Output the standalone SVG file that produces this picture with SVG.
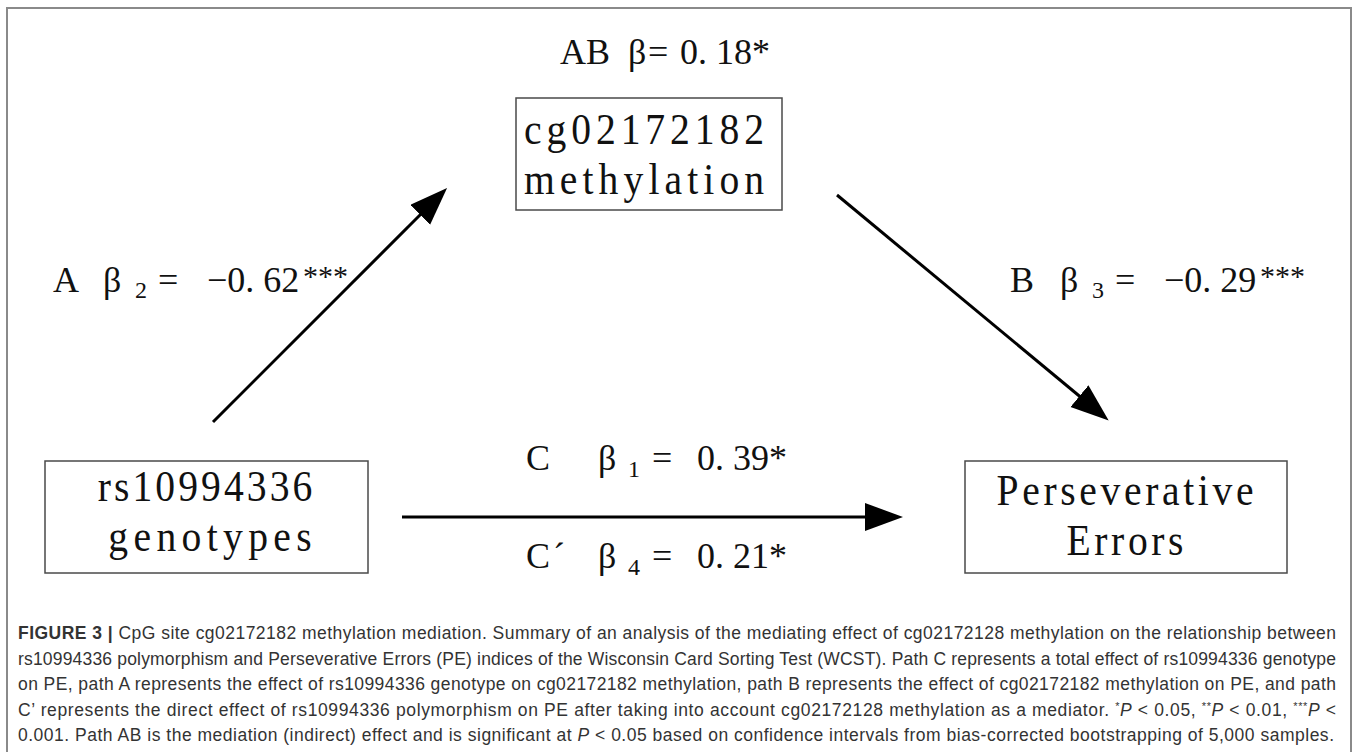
<svg xmlns="http://www.w3.org/2000/svg" width="1357" height="752" viewBox="0 0 1357 752">
<defs>
<style>
.frame{fill:none;stroke:#8a8a8a;stroke-width:2}
.box{fill:#fff;stroke:#4a4a4a;stroke-width:1.5}
.bt{font-family:"Liberation Serif",serif;font-size:45px;fill:#111;text-anchor:middle}
.lb{font-family:"Liberation Serif",serif;font-size:36px;fill:#111}
.sub{font-size:24px}
.st{font-size:30px}
.edge{stroke:#000;stroke-width:3;fill:none}
.cap{font-family:"Liberation Sans",Arial,sans-serif;font-size:17.5px;fill:#333}
.b{font-weight:bold}
.i{font-style:italic}
</style>
<marker id="ah" markerUnits="userSpaceOnUse" markerWidth="40" markerHeight="30" refX="28" refY="14" orient="auto">
<path d="M0,0 L38,14 L0,28 z" fill="#000"/>
</marker>
</defs>
<rect x="0" y="0" width="1357" height="752" fill="#fff"/>
<rect class="frame" x="7" y="8" width="1344" height="760"/>

<g id="connectors">
<line class="edge" x1="213" y1="422" x2="440" y2="195" marker-end="url(#ah)"/>
<line class="edge" x1="837" y1="195" x2="1101" y2="414" marker-end="url(#ah)"/>
<line class="edge" x1="402" y1="517" x2="893" y2="517" marker-end="url(#ah)"/>
</g>

<g id="node-cg">
<rect class="box" x="516" y="98" width="266" height="112"/>
<text class="bt" transform="translate(644,0) scale(0.88,1)" x="0" y="144" textLength="273" lengthAdjust="spacing">cg02172182</text>
<text class="bt" transform="translate(644,0) scale(0.88,1)" x="0" y="194" textLength="273" lengthAdjust="spacing">methylation</text>
</g>

<g id="node-rs">
<rect class="box" x="45" y="461" width="323" height="112"/>
<text class="bt" transform="translate(205,0) scale(0.88,1)" x="0" y="501" textLength="244" lengthAdjust="spacing">rs10994336</text>
<text class="bt" transform="translate(210,0) scale(0.88,1)" x="0" y="551" textLength="231" lengthAdjust="spacing">genotypes</text>
</g>

<g id="node-pe">
<rect class="box" x="965" y="461" width="322" height="112"/>
<text class="bt" transform="translate(1125,0) scale(0.88,1)" x="0" y="505" textLength="292" lengthAdjust="spacing">Perseverative</text>
<text class="bt" transform="translate(1125,0) scale(0.88,1)" x="0" y="555" textLength="133" lengthAdjust="spacing">Errors</text>
</g>

<g id="labels">
<text class="lb" y="64"><tspan x="560">AB</tspan><tspan x="628">β</tspan><tspan x="648">=</tspan><tspan x="680">0. 18*</tspan></text>
<text class="lb" y="292"><tspan x="53">A</tspan><tspan x="103">β</tspan><tspan class="sub" x="135" dy="6">2</tspan><tspan x="158" dy="-6">=</tspan><tspan x="207">−0. 62</tspan><tspan class="st" x="303" dy="-6">***</tspan></text>
<text class="lb" y="292"><tspan x="1010">B</tspan><tspan x="1060">β</tspan><tspan class="sub" x="1092" dy="6">3</tspan><tspan x="1115" dy="-6">=</tspan><tspan x="1164">−0. 29</tspan><tspan class="st" x="1260" dy="-6">***</tspan></text>
<text class="lb" y="470"><tspan x="526">C</tspan><tspan x="598">β</tspan><tspan class="sub" x="628" dy="7">1</tspan><tspan x="652" dy="-7">=</tspan><tspan x="697">0. 39*</tspan></text>
<text class="lb" y="568"><tspan x="526">C</tspan><tspan x="553">´</tspan><tspan x="598">β</tspan><tspan class="sub" x="628" dy="7">4</tspan><tspan x="652" dy="-7">=</tspan><tspan x="697">0. 21*</tspan></text>
</g>

<g id="caption">
<text class="cap" x="18" y="639" textLength="1318" lengthAdjust="spacing"><tspan class="b">FIGURE 3 |</tspan> CpG site cg02172182 methylation mediation. Summary of an analysis of the mediating effect of cg02172128 methylation on the relationship between</text>
<text class="cap" x="18" y="664.5" textLength="1318" lengthAdjust="spacing">rs10994336 polymorphism and Perseverative Errors (PE) indices of the Wisconsin Card Sorting Test (WCST). Path C represents a total effect of rs10994336 genotype</text>
<text class="cap" x="18" y="690" textLength="1318" lengthAdjust="spacing">on PE, path A represents the effect of rs10994336 genotype on cg02172182 methylation, path B represents the effect of cg02172182 methylation on PE, and path</text>
<text class="cap" x="18" y="715.5" textLength="1318" lengthAdjust="spacing">C’ represents the direct effect of rs10994336 polymorphism on PE after taking into account cg02172128 methylation as a mediator. <tspan font-size="11" dy="-6">*</tspan><tspan class="i" dy="6">P</tspan> &lt; 0.05, <tspan font-size="11" dy="-6">**</tspan><tspan class="i" dy="6">P</tspan> &lt; 0.01, <tspan font-size="11" dy="-6">***</tspan><tspan class="i" dy="6">P</tspan> &lt;</text>
<text class="cap" x="18" y="741" textLength="1316" lengthAdjust="spacing">0.001. Path AB is the mediation (indirect) effect and is significant at <tspan class="i">P</tspan> &lt; 0.05 based on confidence intervals from bias-corrected bootstrapping of 5,000 samples.</text>
</g>
</svg>
